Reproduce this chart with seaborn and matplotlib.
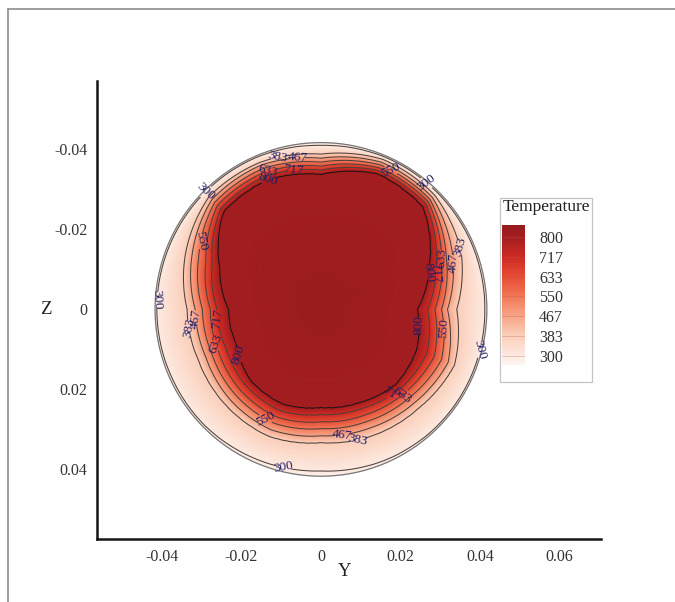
import numpy as np
import matplotlib
matplotlib.use("Agg")
import matplotlib.pyplot as plt
import seaborn as sns
from matplotlib.colors import LinearSegmentedColormap, Normalize
from matplotlib.lines import Line2D
from matplotlib.patches import Rectangle, Circle

# ---------------- data ----------------
levels = [300, 383, 467, 550, 633, 717, 800]
level_labels = ["300", "383", "467", "550", "633", "717", "800"]

# rays through the section centre (deg, 90 = towards -Z / top of the plot)
ray_angles_deg = [0, 22.5, 45, 67.5, 90, 112.5, 135, 157.5,
                  180, 202.5, 225, 247.5, 270, 292.5, 315, 337.5]
# radius (mm) at which each isotherm crosses each ray
r800_mm = [24.3, 29.6, 36.3, 36.8, 33.8, 35.1, 34.6, 27.6, 23.3, 23.1, 25.1, 25.6, 24.6, 25.3, 26.6, 26.1]
r717_mm = [26.8, 31.3, 37.3, 37.6, 34.8, 36.1, 35.6, 29.6, 26.1, 25.8, 26.8, 27.3, 26.3, 26.8, 28.1, 28.8]
r633_mm = [28.6, 32.8, 38.1, 38.3, 35.8, 37.1, 36.8, 31.3, 27.8, 27.8, 28.6, 29.1, 28.1, 28.6, 29.6, 30.8]
r550_mm = [30.3, 34.1, 38.8, 39.1, 36.8, 38.1, 37.8, 33.3, 29.8, 29.6, 30.3, 30.8, 29.8, 30.3, 31.3, 32.8]
r467_mm = [31.8, 35.8, 39.6, 39.8, 37.8, 39.1, 38.8, 35.1, 31.6, 31.3, 32.1, 32.6, 31.6, 32.1, 33.1, 34.6]
r383_mm = [34.1, 38.1, 40.4, 40.6, 38.8, 39.8, 39.8, 36.8, 33.6, 33.3, 33.8, 34.3, 33.3, 34.1, 34.8, 36.3]
r300_mm = [41.2, 41.3, 41.3, 41.3, 41.0, 41.3, 41.3, 41.3, 41.3, 41.2, 41.2, 40.8, 40.4, 41.0, 41.3, 41.3]
wall_radius_mm = 41.7
t_center = 835
t_wall = 285

y_ticks = [-0.04, -0.02, 0, 0.02, 0.04, 0.06]
y_tick_labels = ["-0.04", "-0.02", "0", "0.02", "0.04", "0.06"]
z_ticks = [-0.04, -0.02, 0, 0.02, 0.04]
z_tick_labels = ["-0.04", "-0.02", "0", "0.02", "0.04"]

# ---------------- layout (label anchors in mm) ----------------
label_anchor_mm = {
    300: [(-28.7, -29.1), (26.9, -32.1), (-40.5, -2.3), (40.0, 10.2), (-9.1, 38.4)],
    383: [(-10.8, -38.1), (36.2, -16.1), (-33.4, 4.7), (9.3, 32.7)],
    467: [(-5.8, -37.3), (34.4, -11.8), (-30.9, 2.2), (5.3, 30.9)],
    550: [(17.3, -34.3), (-31.4, -17.3), (31.2, 4.7), (-14.1, 27.7)],
    633: [(-13.3, -34.6), (29.9, -12.8), (-27.4, 8.9), (19.9, 20.7)],
    717: [(-7.0, -35.3), (27.9, -9.3), (-25.9, 2.2), (18.1, 21.4)],
    800: [(-13.3, -32.8), (24.9, -9.8), (-20.4, 11.4), (24.9, 3.9)],
}

sns.set_style("white")
plt.rcParams["font.family"] = ["Liberation Serif", "DejaVu Serif"]

# ---------------- build the temperature field on a polar grid ----------------
R = wall_radius_mm / 1000.0
theta = np.linspace(0.0, 360.0, 721)
r = np.linspace(0.0, R, 260)
radii = np.array([r800_mm, r717_mm, r633_mm, r550_mm, r467_mm, r383_mm, r300_mm]) / 1000.0
rad_theta = np.array([np.interp(theta, ray_angles_deg, row, period=360) for row in radii])
temps_out = [t_center] + levels[::-1] + [t_wall]
T = np.empty((r.size, theta.size))
for j in range(theta.size):
    rp = np.concatenate([[0.0], rad_theta[:, j], [R]])
    T[:, j] = np.interp(r, rp, temps_out)

RR, TH = np.meshgrid(r, np.deg2rad(theta), indexing="ij")
Yg = RR * np.cos(TH)
Zg = -RR * np.sin(TH)

anchor_vals = [262, 300, 383, 467, 550, 633, 717, 800, 850]
anchor_cols = ["#fef5f0", "#fdeae1", "#fbcfba", "#f8a587", "#f17858",
               "#e64c35", "#cd2a23", "#a31d20", "#961b1e"]
vmin, vmax = 262, 850
cmap = LinearSegmentedColormap.from_list(
    "temp", [((v - vmin) / (vmax - vmin), c) for v, c in zip(anchor_vals, anchor_cols)])
norm = Normalize(vmin=vmin, vmax=vmax)

# ---------------- figure ----------------
W, H = 675, 602
fig = plt.figure(figsize=(W / 100, H / 100), dpi=100)
ax = fig.add_axes([97 / W, 1 - 539 / H, (601 - 97) / W, (539 - 81) / H])
ax.set_facecolor("white")

mesh = ax.pcolormesh(Yg, Zg, T, shading="gouraud", cmap=cmap, norm=norm, rasterized=True)
ax.add_patch(Circle((0, 0), R, fill=False, ec="#767676", lw=0.9, zorder=3))

for lev, lab in zip(levels, level_labels):
    col = "#1e1414" if lev == 800 else "#4e403b"
    cs = ax.contour(Yg, Zg, T, levels=[lev], colors=[col], linewidths=0.75)
    pts = [(a / 1000.0, b / 1000.0) for a, b in label_anchor_mm[lev]]
    ax.clabel(cs, manual=pts, inline=True, inline_spacing=1,
              fmt={lev: lab}, fontsize=9.5, colors="#1e1e68")

ax.set_xlim(-0.0563, 0.0704)
ax.set_ylim(0.0574, -0.0571)
ax.set_xticks(y_ticks)
ax.set_xticklabels(y_tick_labels)
ax.set_yticks(z_ticks)
ax.set_yticklabels(z_tick_labels)
ax.tick_params(length=0, labelsize=11.5, labelcolor="#333333", pad=7)
for s in ["top", "right"]:
    ax.spines[s].set_visible(False)
for s in ["left", "bottom"]:
    ax.spines[s].set_color("#151515")
    ax.spines[s].set_linewidth(1.8)
ax.set_xlabel("Y", fontsize=13.5, color="#222222", va="center")
ax.set_ylabel("Z", fontsize=13.5, color="#222222", rotation=0, va="center", ha="center")
ax.xaxis.set_label_coords((345 - 97) / 504, (539 - 572) / 458)
ax.yaxis.set_label_coords((46 - 97) / 504, (539 - 309) / 458)
ax.grid(False)

# legend box
fig.add_artist(Rectangle((500 / W, 1 - 382 / H), 92 / W, 184 / H, transform=fig.transFigure,
                         fc="white", ec="#c4c4c4", lw=0.9, zorder=2))
fig.text(546 / W, 1 - 207 / H, "Temperature", ha="center", va="center",
         fontsize=12.5, color="#222222", zorder=4)
cax = fig.add_axes([502 / W, 1 - 365 / H, 23 / W, 140 / H])
cax.set_zorder(5)
cb = fig.colorbar(mesh, cax=cax, ticks=levels)
cb.ax.set_yticklabels(level_labels)
cb.outline.set_visible(False)
cb.ax.tick_params(length=0, labelsize=11.5, labelcolor="#333333", pad=10)
for lev in levels:
    cb.ax.axhline(lev, color="#b06050", lw=0.4, alpha=0.5)

# outer frame of the picture
fig.add_artist(Line2D([8 / W, 1.0], [1 - 9 / H, 1 - 9 / H], transform=fig.transFigure,
                      color="#8c8c8c", lw=1.2))
fig.add_artist(Line2D([8 / W, 8 / W], [0.0, 1 - 9 / H], transform=fig.transFigure,
                      color="#8c8c8c", lw=1.2))

fig.savefig("out.png", dpi=100)
